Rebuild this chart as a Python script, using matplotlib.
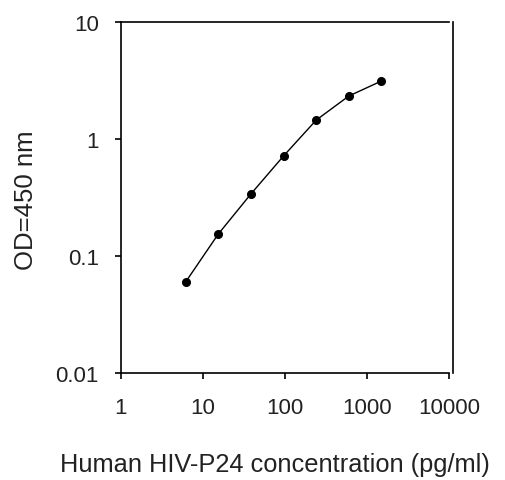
import matplotlib
matplotlib.use("Agg")
import matplotlib.pyplot as plt

conc = [6.144, 15.36, 38.4, 96, 240, 600, 1500]
od = [0.060, 0.154, 0.339, 0.716, 1.45, 2.33, 3.13]
xticks = [1, 10, 100, 1000, 10000]
xticklabels = ["1", "10", "100", "1000", "10000"]
yticks = [0.01, 0.1, 1, 10]
yticklabels = ["0.01", "0.1", "1", "10"]

plt.rcParams['font.family'] = ['Liberation Sans', 'DejaVu Sans']
W, H = 506, 481
fig = plt.figure(figsize=(W/100, H/100), dpi=100)
ax = fig.add_axes([121/W, 1-374/H, (449-121)/W, (374-23)/H])
ax.plot(conc, od, color='black', lw=1, marker='o', ms=5.5, mfc='black', mec='black')
ax.set_xscale('log')
ax.set_yscale('log')
ax.set_xlim(1, 10000)
ax.set_ylim(0.01, 10)
ax.set_xticks(xticks)
ax.set_xticklabels(xticklabels)
ax.set_yticks(yticks)
ax.set_yticklabels(yticklabels)
ax.minorticks_off()
ax.tick_params(axis='both', direction='out', length=4, width=1.2, color='black',
               labelsize=16, labelcolor='#222222')
ax.tick_params(axis='x', pad=13)
ax.tick_params(axis='y', pad=12)
for s in ['left', 'bottom', 'top', 'right']:
    ax.spines[s].set_linewidth(1.2)
ax.spines['right'].set_position(('axes', 1.012))
fig.text(275/W, 1-465/H, "Human HIV-P24 concentration (pg/ml)", fontsize=18.3,
         ha='center', va='center', color='#222222')
fig.text(26/W, 1-200/H, "OD=450 nm", fontsize=18.5, rotation=90,
         ha='center', va='center', color='#222222')
fig.savefig("out.png", dpi=100)
